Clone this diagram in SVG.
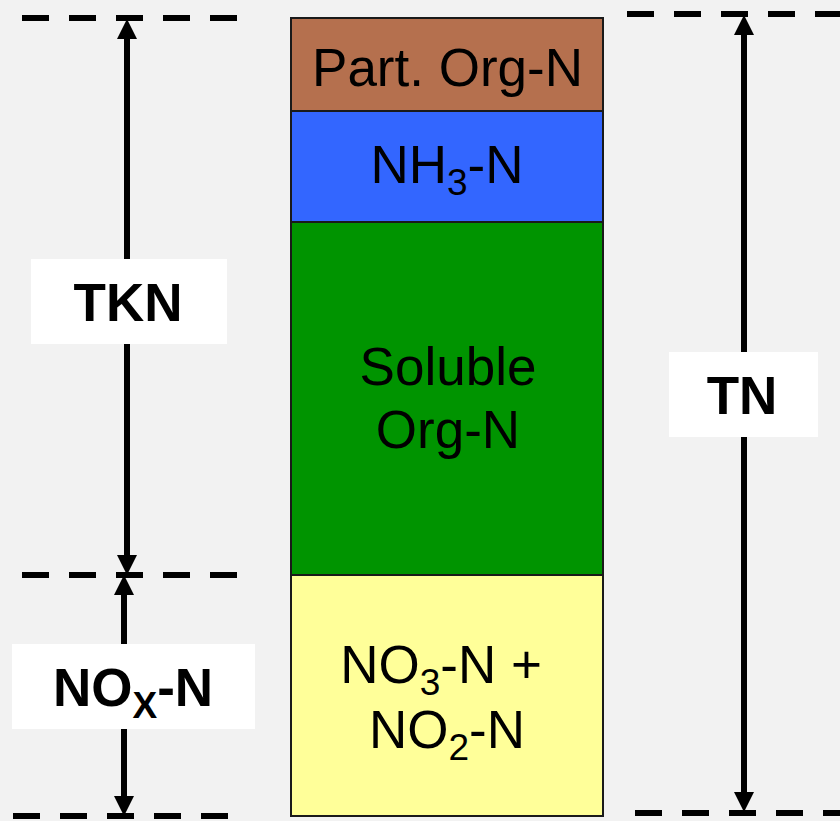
<svg xmlns="http://www.w3.org/2000/svg" width="840" height="821" viewBox="0 0 840 821">
  <style>
    .band { stroke: #1a1a1a; stroke-width: 2; }
    .lbl { font-family: "Liberation Sans", Arial, sans-serif; font-size: 53px; fill: #000; text-anchor: middle; }
    .bold { font-weight: bold; }
    .sub { font-size: 37px; }
    .dash { stroke: #000; stroke-width: 6; stroke-dasharray: 27 20; fill: none; }
    .dim { stroke: #000; stroke-width: 6; fill: none; marker-start: url(#head); marker-end: url(#head); }
    .tag { fill: #ffffff; }
  </style>
  <defs>
    <marker id="head" markerUnits="userSpaceOnUse" viewBox="0 0 20 20" refX="10" refY="10" markerWidth="20" markerHeight="20" orient="auto-start-reverse">
      <path d="M0,0 L20,10 L0,20 z" fill="#000"/>
    </marker>
  </defs>

  <rect width="840" height="821" fill="#f2f2f2"/>

  <!-- stacked nitrogen fractions -->
  <g id="part-org-n">
    <rect class="band" x="291" y="18" width="312" height="93" fill="#b5704e"/>
    <text class="lbl" x="447.5" y="86">Part. Org-N</text>
  </g>
  <g id="nh3-n">
    <rect class="band" x="291" y="111" width="312" height="111" fill="#3366ff"/>
    <text class="lbl" x="447" y="183">NH<tspan class="sub" dy="12">3</tspan><tspan dy="-12">-N</tspan></text>
  </g>
  <g id="soluble-org-n">
    <rect class="band" x="291" y="222" width="312" height="353" fill="#009400"/>
    <text class="lbl" x="448" y="385">Soluble</text>
    <text class="lbl" x="448" y="448">Org-N</text>
  </g>
  <g id="nox-fraction">
    <rect class="band" x="291" y="575" width="312" height="241" fill="#ffff99"/>
    <text class="lbl" x="441" y="683">NO<tspan class="sub" dy="12">3</tspan><tspan dy="-12">-N +</tspan></text>
    <text class="lbl" x="447" y="748">NO<tspan class="sub" dy="12">2</tspan><tspan dy="-12">-N</tspan></text>
  </g>

  <!-- reference levels and dimension arrows -->
  <g id="connectors">
    <line class="dash" x1="22" y1="18" x2="237" y2="18"/>
    <line class="dash" x1="22" y1="575" x2="237" y2="575"/>
    <line class="dash" x1="13" y1="816" x2="228" y2="816"/>
    <line class="dash" x1="627" y1="14" x2="842" y2="14"/>
    <line class="dash" x1="635" y1="813" x2="850" y2="813"/>

    <line class="dim" x1="127" y1="29" x2="127" y2="565"/>
    <line class="dim" x1="124" y1="585" x2="124" y2="806"/>
    <line class="dim" x1="744" y1="25" x2="744" y2="802"/>
  </g>

  <g id="tkn">
    <rect class="tag" x="31" y="259" width="196" height="85"/>
    <text class="lbl bold" x="128" y="321">TKN</text>
  </g>
  <g id="nox-n">
    <rect class="tag" x="12" y="644" width="243" height="85"/>
    <text class="lbl bold" x="133" y="706">NO<tspan class="sub" dy="12">X</tspan><tspan dy="-12">-N</tspan></text>
  </g>
  <g id="tn">
    <rect class="tag" x="669" y="352" width="149" height="85"/>
    <text class="lbl bold" x="742" y="414">TN</text>
  </g>
</svg>
